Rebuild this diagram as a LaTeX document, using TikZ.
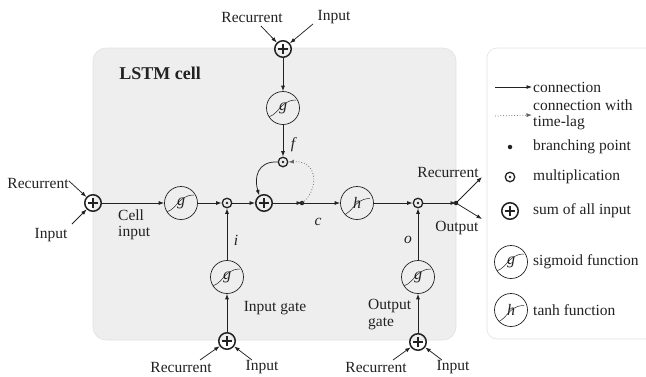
\documentclass[tikz,border=0pt]{standalone}
\usepackage{fontspec}
\setmainfont{Liberation Serif}
\usetikzlibrary{arrows.meta}
\definecolor{ink}{HTML}{222222}
\definecolor{cellbg}{HTML}{EEEEEE}
\definecolor{rim}{HTML}{E2E2E2}
\begin{document}
\begin{tikzpicture}[x=1pt,y=-1pt,
  every node/.style={font=\fontsize{15.5}{16.5}\selectfont, text=ink},
  tip/.style={-{Latex[length=5.5pt,width=4pt]}},
  conn/.style={draw=ink, line width=0.75pt, tip},
  lag/.style={draw=ink!70, line width=0.75pt, dotted, tip},
  fn/.style={circle, draw=ink, line width=0.7pt, minimum size=33pt, inner sep=0pt,
    font=\fontsize{16}{17}\selectfont\itshape,
    path picture={\draw[ink, line width=0.5pt, shift={(path picture bounding box.center)}]
      (-17,8) .. controls (1,8) and (-1,-10) .. (17,-10);}},
  sumnode/.style={circle, draw=ink, line width=1.5pt, minimum size=16.5pt, inner sep=0pt,
    path picture={\draw[ink, line width=1.4pt, shift={(path picture bounding box.center)}]
      (-5,0) -- (5,0) (0,-5) -- (0,5);}},
  mulnode/.style={circle, draw=ink, line width=1.3pt, minimum size=9.5pt, inner sep=0pt,
    path picture={\fill[ink] (path picture bounding box.center) circle (1.3pt);}},
  branch/.style={circle, fill=ink, minimum size=4.5pt, inner sep=0pt},
  var/.style={font=\fontsize{15.5}{16.5}\selectfont\itshape},
  legtext/.style={anchor=west, inner sep=1pt, align=left}
]
\useasboundingbox (0,0) rectangle (646,376);

% cell background and legend panel
\path[fill=cellbg, draw=rim, line width=0.6pt, rounded corners=13pt]
  (93,48) rectangle (456,340);
\path[fill=white, draw=rim, line width=0.6pt, rounded corners=10pt]
  (487,48) rectangle (680,339);

\node[font=\fontsize{18}{20}\selectfont\bfseries] (title) at (160,73) {LSTM cell};

% main signal row
\node[sumnode] (inL) at (93,203) {};
\node[fn] (gc) at (181,203) {g};
\node[mulnode] (mi) at (227,203) {};
\node[sumnode] (s) at (264,203) {};
\node[branch] (bc) at (302,203) {};
\node[fn] (hc) at (357,203) {h};
\node[mulnode] (mo) at (418,203) {};
\node[branch] (bo) at (456,203) {};
\coordinate (outR) at (482,177);
\coordinate (outO) at (482,219);

% forget gate column
\node[sumnode] (inF) at (283,49) {};
\node[fn] (gf) at (283,108) {g};
\node[mulnode] (mf) at (283,162) {};

% input gate column
\node[fn] (gi) at (227,277) {g};
\node[sumnode] (inI) at (227,341) {};

% output gate column
\node[fn] (go) at (418,277) {g};
\node[sumnode] (inO) at (418,342) {};

% external inputs
\node (rL) at (38,183) {Recurrent};
\node (iL) at (51,235) {Input};
\coordinate (rLt) at (69,181);
\coordinate (iLt) at (72,224);
\node (rF) at (252,17) {Recurrent};
\node (iF) at (334,17) {Input};
\coordinate (rFt) at (261,26);
\coordinate (iFt) at (313,24);
\node (rI) at (181,367) {Recurrent};
\node (iI) at (262,367) {Input};
\coordinate (rIt) at (200,360);
\coordinate (iIt) at (252,360);
\node (rO) at (376,367) {Recurrent};
\node (iO) at (453,367) {Input};
\coordinate (rOt) at (393,360);
\coordinate (iOt) at (442,360);

\draw[conn] (rLt) -- (inL);
\draw[conn] (iLt) -- (inL);
\draw[conn] (rFt) -- (inF);
\draw[conn] (iFt) -- (inF);
\draw[conn] (rIt) -- (inI);
\draw[conn] (iIt) -- (inI);
\draw[conn] (rOt) -- (inO);
\draw[conn] (iOt) -- (inO);

% connections
\draw[conn] (inL) -- (gc);
\draw[conn] (gc) -- (mi);
\draw[conn] (mi) -- (s);
\draw[conn] (s) -- (bc.center);
\draw[conn] (bc) -- (hc);
\draw[conn] (hc) -- (mo);
\draw[conn] (mo) -- (bo.center);
\draw[conn] (bo.center) -- (outR);
\draw[conn] (bo.center) -- (outO);

\draw[conn] (inF) -- (gf);
\draw[conn] (gf) -- (mf);
\draw[conn] (mf.west) .. controls (257,161) and (254,178) .. (s.122);
\draw[lag] (bc.center) .. controls (318,192) and (320,160) .. (mf.east);

\draw[conn] (inI) -- (gi);
\draw[conn] (gi) -- (mi);
\draw[conn] (inO) -- (go);
\draw[conn] (go) -- (mo);

% labels
\node[var] (lf) at (293,145) {f};
\node[var] (li) at (236,240) {i};
\node[var] (lc) at (318,222) {c};
\node[var] (lo) at (408,240) {o};
\node[anchor=west, align=left, inner sep=1pt] (lcell) at (117,225) {Cell\\input};
\node (lig) at (275,308) {Input gate};
\node[anchor=west, align=left, inner sep=1pt, font=\fontsize{15.5}{17}\selectfont] (log) at (367,315) {Output\\gate};
\node (lrec) at (448,172) {Recurrent};
\node (lout) at (457,228) {Output};

% legend
\node[legtext] (t1) at (532,87) {connection};
\coordinate (a1) at (495,87);
\draw[conn] (a1) -- (t1.west);
\node[legtext] (t2) at (532,115) {connection with\\time-lag};
\coordinate (a2) at (495,116);
\draw[lag] (a2) -- (t2.west);
\node[branch] (kb) at (510,147) {};
\node[legtext] (t3) at (532,147) {branching point};
\node[mulnode] (km) at (510,177) {};
\node[legtext] (t4) at (532,177) {multiplication};
\node[sumnode] (ks) at (510,211) {};
\node[legtext] (t5) at (532,211) {sum of all input};
\node[fn] (kg) at (511,262) {g};
\node[legtext] (t6) at (532,262) {sigmoid function};
\node[fn] (kh) at (511,310) {h};
\node[legtext] (t7) at (532,310) {tanh function};
\end{tikzpicture}
\end{document}
